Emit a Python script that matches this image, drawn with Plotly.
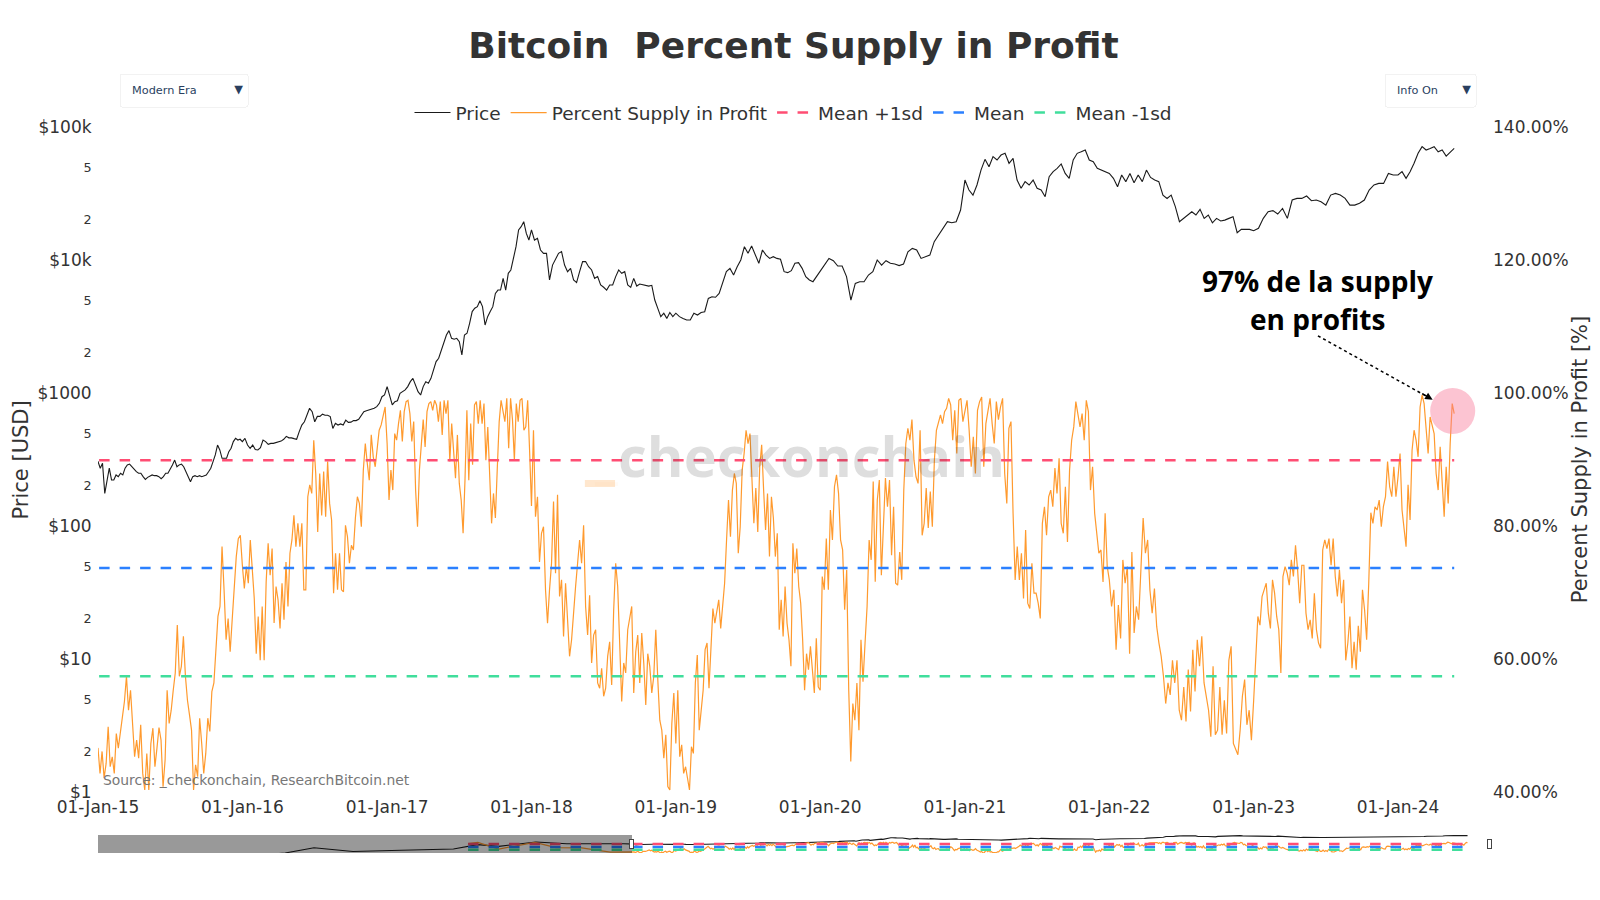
import pandas as pd
import plotly.graph_objects as go

# values, one list per calendar year
price_early_dates = ["2010-08-01", "2011-02-10", "2011-06-08", "2011-11-15", "2012-06-01", "2012-12-31",
                     "2013-04-09", "2013-07-05", "2013-12-04", "2014-04-10", "2014-11-30"]
price_early = [0.07, 1.0, 29, 2.5, 6, 13, 214, 68, 1130, 380, 375]

price_2015 = [305, 272, 296, 176, 222, 272, 222, 222, 242, 235, 249, 242, 272, 288, 292, 279, 264, 256, 249, 249,
              235, 224, 232, 238, 242, 239, 239, 235, 227, 235, 249, 249, 272, 288, 313, 279, 288, 292, 279, 256,
              235, 215, 235, 239, 235, 239, 235, 238, 242, 256, 272, 305, 342, 406, 373, 323, 323, 323, 362, 384,
              431, 456, 443, 449]
price_2016 = [431, 456, 406, 384, 406, 376, 373, 388, 443, 431, 411, 418, 418, 423, 426, 435, 449, 472, 460, 460,
              454, 449, 512, 574, 608, 695, 767, 724, 608, 667, 667, 693, 681, 681, 665, 542, 592, 574, 585, 574,
              625, 601, 604, 620, 620, 634, 682, 724, 736, 745, 759, 767, 789, 836, 938, 966]
price_2017 = [1117, 966, 813, 861, 875, 995, 1024, 1054, 1117, 1217, 1288, 1148, 1024, 966, 1117, 1217, 1183, 1288,
              1489, 1722, 1824, 2104, 2366, 2729, 2944, 2576, 2535, 2576, 2432, 1932, 2729, 2812, 3342, 4093, 4335,
              4459, 4943, 4459, 3243, 3750, 4093, 4459, 5610, 5943, 5943, 7278, 5943, 7943, 8414, 10300, 12590,
              16830, 17820, 19410, 15850, 14120]
price_2018 = [16830, 14120, 14550, 11890, 11220, 11220, 7080, 9160, 10300, 11220, 11560, 9160, 8170, 8650, 7080,
              6760, 8170, 9730, 9730, 8910, 8414, 7278, 7500, 6490, 6240, 5943, 6490, 6490, 7500, 8414, 7943, 8170,
              6490, 6223, 7278, 6368, 6592, 6490, 6450, 6368, 6450, 5000, 4325, 3750, 3981, 3639, 4027, 3750]
price_2019 = [3981, 3750, 3639, 3540, 3540, 3981, 3855, 4027, 4083, 5140, 5297, 5245, 5610, 6871, 8170, 8650, 7709,
              8910, 10000, 12590, 11220, 12735, 10890, 9440, 11890, 10890, 10280, 10590, 10280, 10120, 8170, 8035,
              8318, 9440, 9550, 8650, 7500, 7080, 6870, 7500]
price_2020 = [8170, 9160, 10280, 9880, 9015, 9015, 7500, 5000, 6670, 6870, 6870, 7709, 8170, 10000, 9160, 9880, 9440,
              9330, 9080, 9330, 11530, 12220, 11890, 10280, 10590, 10890, 13740, 15420, 17300, 19410, 19050, 19410,
              23770]
price_2021 = [39900, 33570, 30760, 36640, 47420, 57150, 50230, 59840, 56490, 61520, 63390, 53330, 58080, 39930, 34590,
              38820, 36640, 39930, 34590, 33570, 29920, 42270, 46130, 48870, 52720, 44770, 41110, 56490, 63390, 65160,
              67140, 56490, 54830, 48870, 47420, 46130]
price_2022 = [44770, 41110, 35560, 43550, 38820, 44770, 38100, 43550, 38820, 47420, 41760, 39930, 38820, 30760, 29040,
              30760, 25180, 19410, 20560, 21780, 23070, 21780, 24050, 20560, 21780, 19050, 20560, 19640, 19950, 20560,
              21180, 16030, 16980, 16980, 16980]
price_2023 = [16600, 17300, 20560, 23070, 23500, 22180, 24430, 20560, 28250, 29040, 29040, 30270, 27930, 28250, 27400,
              25880, 30760, 31700, 30760, 29040, 25880, 25880, 26690, 28250, 33570, 36640, 37670, 37670, 44770, 43550]
price_2024 = [43550, 46130, 41110, 46130, 53330, 63390, 71120, 67140, 69020, 71120, 65160, 67140, 60500, 64120, 69020]

supply_early_dates = ["2013-03-01", "2013-04-10", "2013-07-05", "2013-11-30", "2014-02-25", "2014-06-10", "2014-10-05",
                      "2014-12-20"]
supply_early = [92, 99, 62, 99, 70, 68, 45, 46]

supply_2015 = [46.6, 42.8, 46.1, 42.1, 44.3, 49.8, 43.8, 45.3, 42.8, 48.8, 46.6, 48.8, 51.3, 53.6, 57.4, 52.3, 55.3,
               49.3, 45.3, 47.8, 45.1, 50.1, 42.8, 40.3, 45.8, 40.3, 47.3, 49.6, 43.8, 46.6, 49.7, 47.8, 40.8, 44.8,
               55.3, 50.3, 52.3, 55.3, 57.9, 65.1, 57.4, 58.9, 63.4, 57.4, 53.8, 51.6, 49.3, 40.3, 44.1, 42.3, 51.1,
               47.3, 42.8, 45.8, 51.1, 49.1, 55.1, 56.4, 60.8, 66.4, 67.9, 76.9, 70.4, 62.9, 66.1, 61.1, 65.9, 71.4,
               75.4, 78.1, 78.6]
supply_2016 = [74.1, 70.6, 73.9, 71.4, 77.9, 73.9, 69.1, 60.8, 66.4, 59.8, 67.9, 59.8, 71.6, 77.4, 72.6, 76.6, 65.4,
               70.9, 68.9, 64.6, 71.4, 65.9, 74.6, 67.9, 75.9, 77.9, 81.6, 76.9, 80.4, 76.9, 80.4, 70.4, 70.4, 84.4,
               86.2, 84.9, 92.9, 87.9, 79.1, 87.9, 81.6, 88.2, 81.4, 89.7, 83.4, 80.9, 69.9, 75.9, 70.4, 75.9, 70.4,
               70.1, 80.1, 78.4, 74.4, 77.1, 76.4, 81.2, 84.4, 83.4, 79.9, 88.4, 92.4, 89.4, 86.9, 93.7, 90.4, 88.9,
               91.7, 94.4, 95.2, 96.7, 97.9]
supply_2017 = [92.4, 83.9, 88.4, 85.4, 93.9, 92.9, 95.4, 97.4, 92.7, 97.2, 98.7, 98.9, 96.9, 92.7, 95.7, 85.4, 79.9,
               88.4, 92.2, 96.0, 91.9, 97.2, 98.4, 98.7, 97.4, 98.9, 98.2, 95.7, 98.7, 93.7, 98.9, 96.9, 98.9, 89.7,
               95.4, 90.9, 87.2, 93.7, 86.4, 83.9, 78.9, 86.9, 97.4, 86.9, 95.4, 89.2, 98.2, 98.7, 95.4, 98.9, 95.4,
               98.4, 89.9, 94.9, 86.4, 80.4, 84.9, 81.2, 88.7, 95.7, 98.9, 97.4, 95.7, 99.2, 91.7, 99.2, 96.0, 89.9,
               98.4, 95.7, 98.9, 99.2, 94.4, 94.9, 98.9, 91.4]
supply_2018 = [83.0, 94.4, 81.4, 84.4, 74.6, 78.9, 79.9, 70.4, 65.4, 70.4, 74.4, 83.7, 72.9, 84.7, 69.4, 71.9, 63.4,
               71.4, 66.4, 60.4, 62.9, 67.4, 70.9, 74.4, 77.9, 74.4, 80.1, 67.9, 63.6, 69.6, 59.4, 63.6, 64.4, 56.4,
               55.6, 58.6, 54.4, 55.6, 60.4, 62.6, 56.1, 67.4, 74.4, 70.9, 61.9, 53.6, 59.4, 57.9, 64.4, 65.9, 67.9,
               54.9, 61.1, 63.6, 56.4, 63.9, 59.4, 53.1, 60.8, 58.9, 54.9, 57.4, 64.4, 56.9, 50.8, 49.3, 45.1, 48.6,
               40.8, 40.3, 50.3, 54.9]
supply_2019 = [47.3, 55.3, 45.3, 47.1, 42.8, 43.8, 41.8, 40.3, 46.8, 45.8, 56.4, 60.6, 49.3, 52.8, 55.3, 61.4, 62.4,
               55.6, 62.9, 67.6, 65.4, 67.4, 68.9, 64.6, 68.4, 71.4, 77.9, 83.9, 78.4, 85.4, 87.9, 86.4, 75.9, 79.9,
               88.4, 90.9, 94.4, 92.4, 93.9, 86.4, 80.4, 85.7, 79.1, 88.9, 92.2, 85.4, 79.4, 84.9, 75.4, 84.4, 81.2,
               75.4, 78.9, 64.4, 68.9, 63.4, 70.9, 65.4, 62.9, 58.9, 77.4, 72.9, 76.6, 70.9, 68.4, 62.9, 55.3, 60.8,
               58.4, 61.9, 57.9, 54.9, 63.1, 55.8]
supply_2020 = [55.3, 72.4, 70.4, 78.1, 70.4, 82.4, 77.9, 85.9, 87.7, 84.9, 77.9, 76.4, 67.4, 73.4, 55.3, 44.6, 53.3,
               50.8, 56.4, 49.3, 62.9, 56.6, 62.4, 67.9, 77.9, 74.9, 86.7, 71.6, 83.9, 86.9, 72.6, 81.4, 87.2, 82.9,
               86.9, 75.6, 82.9, 71.4, 71.1, 76.1, 71.9, 85.4, 92.4, 94.7, 92.9, 96.0, 89.9, 87.4, 86.4, 94.4, 78.6,
               80.4, 85.7, 79.7, 85.2, 79.9, 89.9, 94.4, 95.7, 96.7, 95.4, 97.2, 97.7, 99.2, 98.2, 92.9, 97.4, 90.9,
               98.9, 99.2, 95.7]
supply_2021 = [97.4, 98.9, 94.4, 88.9, 93.4, 87.9, 97.4, 98.7, 99.4, 88.9, 95.4, 97.4, 99.2, 95.4, 92.4, 98.7, 96.0,
               97.9, 99.2, 87.9, 83.4, 94.7, 95.7, 81.9, 71.9, 76.9, 71.9, 75.9, 69.1, 79.4, 68.4, 67.6, 74.4, 69.9,
               69.9, 68.4, 66.1, 80.4, 82.9, 78.6, 84.4, 85.4, 82.9, 88.7, 84.9, 90.2, 80.4, 78.9, 85.9, 77.6, 88.4,
               92.9, 94.9, 98.7, 96.4, 94.9, 96.9, 92.9, 98.9, 97.2, 85.4, 88.9, 81.9, 78.9, 75.9, 76.4, 71.6, 81.9,
               73.9]
supply_2022 = [71.9, 67.9, 70.4, 61.4, 68.1, 63.1, 74.9, 71.4, 73.9, 60.8, 76.1, 63.9, 67.9, 65.9, 73.4, 81.2, 75.9,
               77.9, 70.4, 66.9, 70.6, 64.9, 62.4, 60.4, 57.4, 53.3, 56.4, 54.6, 59.8, 56.4, 59.8, 52.3, 50.8, 55.8,
               50.6, 58.4, 52.1, 61.4, 55.1, 62.9, 58.9, 63.4, 56.4, 54.4, 52.3, 48.3, 58.9, 48.6, 49.3, 55.8, 48.6,
               53.8, 48.8, 59.8, 61.9, 47.3, 46.3, 45.6, 49.3, 54.4, 56.9, 50.1, 52.3, 47.8]
supply_2023 = [53.8, 60.4, 66.4, 65.1, 69.4, 70.4, 71.4, 66.9, 64.6, 71.9, 69.9, 66.4, 64.4, 57.9, 72.4, 73.9, 72.9,
               71.1, 74.9, 72.4, 77.1, 73.4, 68.4, 74.1, 74.1, 66.9, 64.4, 65.9, 63.1, 69.9, 64.4, 62.4, 61.6, 76.4,
               77.9, 76.6, 78.1, 74.1, 78.1, 72.4, 69.4, 73.4, 68.4, 71.9, 59.8, 62.4, 66.4, 58.6, 62.6, 58.4, 65.0,
               61.1, 70.4, 67.4, 62.9, 71.4, 82.0, 80.4, 82.9, 82.4, 83.9, 79.9, 82.9, 84.4, 89.7, 85.9, 84.4, 88.9,
               84.4]
supply_2024 = [87.4, 90.9, 82.4, 79.4, 76.9, 86.2, 80.9, 91.4, 94.4, 92.9, 90.4, 97.9, 99.7, 98.4, 93.9, 90.9, 96.4,
               94.9, 93.9, 87.9, 85.4, 91.9, 85.9, 81.4, 88.9, 83.4, 92.4, 98.4, 96.9]

mean_dates = ["2013-03-01", "2024-05-22"]
mean_plus = [89.9, 89.9]
mean_mid = [73.7, 73.7]
mean_minus = [57.4, 57.4]

last_date = "2024-05-22"
view_end = "2024-08-18"


def spread_dates(year, values):
    # the points of one year are spaced evenly over that year
    if year == 2024:
        return list(pd.date_range("2024-01-01", last_date, periods=len(values)))
    return list(pd.date_range(f"{year}-01-01", f"{year + 1}-01-01", periods=len(values) + 1)[:-1])


years = [2015, 2016, 2017, 2018, 2019, 2020, 2021, 2022, 2023, 2024]
price_years = [price_2015, price_2016, price_2017, price_2018, price_2019, price_2020, price_2021, price_2022,
               price_2023, price_2024]
supply_years = [supply_2015, supply_2016, supply_2017, supply_2018, supply_2019, supply_2020, supply_2021, supply_2022,
                supply_2023, supply_2024]

price_x = list(pd.to_datetime(price_early_dates))
price_y = list(price_early)
supply_x = list(pd.to_datetime(supply_early_dates))
supply_y = list(supply_early)
for yr, p, s in zip(years, price_years, supply_years):
    price_x += spread_dates(yr, p)
    price_y += p
    supply_x += spread_dates(yr, s)
    supply_y += s

fig = go.Figure()
fig.add_trace(go.Scatter(x=price_x, y=price_y, name="Price", mode="lines", line=dict(color="#1a1a1a", width=1.1)))
fig.add_trace(go.Scatter(x=supply_x, y=supply_y, name="Percent Supply in Profit", mode="lines", yaxis="y2",
                         line=dict(color="#ff9a2e", width=1.2)))
fig.add_trace(go.Scatter(x=mean_dates, y=mean_plus, name="Mean +1sd", mode="lines", yaxis="y2",
                         line=dict(color="#ff4d73", width=2.5, dash="10.5px,10px")))
fig.add_trace(go.Scatter(x=mean_dates, y=mean_mid, name="Mean", mode="lines", yaxis="y2",
                         line=dict(color="#2b80ff", width=2.5, dash="10.5px,10px")))
fig.add_trace(go.Scatter(x=mean_dates, y=mean_minus, name="Mean -1sd", mode="lines", yaxis="y2",
                         line=dict(color="#40de9c", width=2.5, dash="10.5px,10px")))

font_main = "DejaVu Sans"
text_col = "#333333"
no_tick = "rgba(0,0,0,0)"

# the page body adds 8px on the left and top, so the figure is 16px short of the window
fig.update_layout(
    width=1584,
    height=884,
    paper_bgcolor="white",
    plot_bgcolor="white",
    font=dict(family=font_main, color=text_col, size=17),
    margin=dict(l=90, r=103, t=119, b=100, autoexpand=False),
    title=dict(text="<b>Bitcoin\u00a0 Percent Supply in Profit</b>", x=0.5, xref="paper", xanchor="center",
               y=0.958, yanchor="middle", font=dict(size=36, color=text_col)),
    showlegend=True,
    legend=dict(orientation="h", x=0.5, xanchor="center", y=1.021, yanchor="middle", font=dict(size=18.5),
                itemwidth=36, bgcolor="rgba(0,0,0,0)"),
    xaxis=dict(type="date", range=["2015-01-01", view_end], dtick="M12", tick0="2015-01-01", tickformat="%d-%b-%y",
               showgrid=False, zeroline=False, showline=False, ticks="", ticklabelstandoff=3,
               rangeslider=dict(visible=True, thickness=0.027, range=["2009-01-03", view_end],
                                borderwidth=6, bordercolor="white",
                                yaxis=dict(rangemode="match"))),
    yaxis=dict(type="log", range=[0, 5], dtick="D2", tickprefix="$", showgrid=False, zeroline=False,
               ticks="outside", ticklen=2, tickcolor=no_tick),
    yaxis2=dict(overlaying="y", side="right", range=[40, 140], dtick=20, tickformat=".2f", ticksuffix="%",
                showgrid=False, zeroline=False, ticks="", ticklabelstandoff=3,
                title=dict(text="Percent Supply in Profit [%]", font=dict(size=21), standoff=9)),
    updatemenus=[
        dict(type="dropdown", x=0.015, y=1.081, xanchor="left", yanchor="top", active=0, direction="down",
             showactive=True, bgcolor="white", bordercolor="#f2f2f2", borderwidth=1,
             font=dict(size=11.3, color="#2a3f5f"), pad=dict(l=0, t=0),
             buttons=[dict(label="Modern Era", method="skip"), dict(label="Genesis to Now", method="skip")]),
        dict(type="dropdown", x=0.9245, y=1.081, xanchor="left", yanchor="top", active=0, direction="down",
             showactive=True, bgcolor="white", bordercolor="#f2f2f2", borderwidth=1,
             font=dict(size=11.3, color="#2a3f5f"), pad=dict(l=0, t=0),
             buttons=[dict(label="Info On", method="skip"), dict(label="Info Hide", method="skip")]),
    ],
    annotations=[
        # kept as far left as it goes without being cut by the figure edge
        dict(text="Price [USD]", xref="paper", yref="paper", x=-0.0554, y=0.5, xanchor="center", yanchor="middle",
             textangle=-90, showarrow=False, font=dict(size=21, color=text_col)),
        dict(text="Source: _checkonchain, ResearchBitcoin.net", xref="paper", yref="paper", x=0.002, y=0.018,
             xanchor="left", yanchor="middle", showarrow=False, font=dict(size=13.9, color="#777777")),
        dict(text="<span style='color:rgba(255,170,80,0.28)'>_</span>checkonchain", xref="paper", yref="paper",
             x=0.504, y=0.5075, xanchor="center", yanchor="middle", showarrow=False,
             font=dict(family="Open Sans", size=56, color="rgba(60,60,60,0.17)", weight="bold")),
        dict(text="<b>97% de la supply</b>", xref="paper", yref="paper", x=0.877, y=0.7684,
             xanchor="center", yanchor="middle", showarrow=False, font=dict(family="Open Sans", size=28, color="black")),
        dict(text="<b>en profits</b>", xref="paper", yref="paper", x=0.877, y=0.7113,
             xanchor="center", yanchor="middle", showarrow=False, font=dict(family="Open Sans", size=28, color="black")),
        dict(text="", xref="paper", yref="paper", x=0.9595, y=0.59, ax=-12, ay=-7, axref="pixel", ayref="pixel",
             showarrow=True, arrowhead=2, arrowsize=1, arrowwidth=1.5, arrowcolor="black"),
    ],
    shapes=[
        dict(type="line", xref="paper", yref="paper", x0=0.877, y0=0.686, x1=0.956, y1=0.594,
             line=dict(color="black", width=1.5, dash="dot")),
        dict(type="circle", xref="paper", yref="paper", x0=0.9577, y0=0.5384, x1=0.9901, y1=0.6076,
             fillcolor="rgba(248,125,155,0.45)", line=dict(width=0), layer="above"),
        # thick bar of the watermark underscore
        dict(type="rect", xref="paper", yref="paper", x0=0.350, y0=0.4586, x1=0.3717, y1=0.4692,
             fillcolor="rgba(255,170,80,0.28)", line=dict(width=0), layer="above"),
    ],
)

fig.write_html("out.html")
